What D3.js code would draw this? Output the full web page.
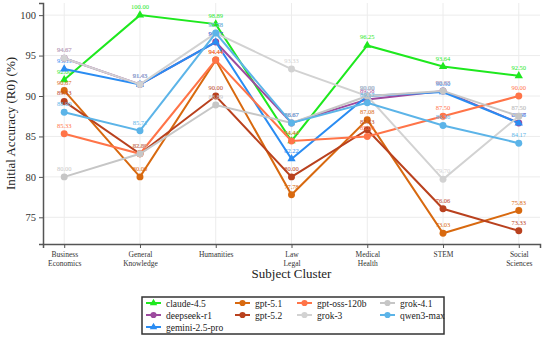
<!DOCTYPE html>
<html>
<head>
<meta charset="utf-8">
<script src="https://cdn.jsdelivr.net/npm/d3@7"></script>
<style>
  body { margin: 0; background: #fff; }
  text { font-family: "Liberation Serif", "DejaVu Serif", serif; }
</style>
</head>
<body>
<div id="wrapper"></div>
<script>
const categories = ["Business Economics", "General Knowledge", "Humanities", "Law Legal", "Medical Health", "STEM", "Social Sciences"]
const models = ["claude-4.5", "deepseek-r1", "gemini-2.5-pro", "gpt-5.1", "gpt-5.2", "gpt-oss-120b", "grok-3", "grok-4.1", "qwen3-max"]

const claude = [92.00, 100.00, 98.89, 84.44, 96.25, 93.64, 92.50]
const deepseek = [94.67, 91.43, 96.67, 86.67, 89.58, 90.63, 86.67]
const gemini = [93.33, 91.43, 96.67, 82.22, 90.00, 90.50, 86.66]
const gpt51 = [90.67, 80.00, 94.44, 77.78, 87.08, 73.03, 75.83]
const gpt52 = [89.33, 82.86, 90.00, 80.00, 85.83, 76.06, 73.33]
const gptoss = [85.33, 82.86, 94.44, 84.44, 85.00, 87.50, 90.00]
const grok3 = [94.67, 91.43, 97.78, 93.33, 90.00, 79.70, 87.50]
const grok41 = [80.00, 82.86, 88.89, 86.67, 90.00, 90.63, 87.50]
const qwen = [88.00, 85.71, 97.78, 86.67, 89.17, 86.36, 84.17]

const yTicks = [75, 80, 85, 90, 95, 100]

function drawChart() {
  const seriesValues = [claude, deepseek, gemini, gpt51, gpt52, gptoss, grok3, grok41, qwen]
  const colors = ["#1ee81e", "#9c4a9e", "#2a8cf2", "#d8690f", "#b9411e", "#ff7448", "#d2d2d2", "#c6c6c6", "#5cb4e8"]
  const symbols = [d3.symbolTriangle, d3.symbolCircle, d3.symbolTriangle, d3.symbolCircle, d3.symbolCircle,
                   d3.symbolCircle, d3.symbolCircle, d3.symbolCircle, d3.symbolCircle]

  const series = models.map((name, i) => ({
    name,
    color: colors[i],
    symbol: symbols[i],
    values: seriesValues[i].map((v, j) => ({ cat: categories[j], value: v }))
  }))

  let dimensions = {
    width: 548,
    height: 338,
    margin: { top: 3, right: 8, bottom: 94, left: 43 },
  }
  dimensions.boundedWidth = dimensions.width - dimensions.margin.left - dimensions.margin.right
  dimensions.boundedHeight = dimensions.height - dimensions.margin.top - dimensions.margin.bottom

  const wrapper = d3.select("#wrapper")
    .append("svg")
    .attr("width", dimensions.width)
    .attr("height", dimensions.height)

  const bounds = wrapper.append("g")
    .attr("transform", `translate(${dimensions.margin.left},${dimensions.margin.top})`)

  const xScale = d3.scalePoint()
    .domain(categories)
    .range([0, dimensions.boundedWidth])
    .padding(0.28)

  const yScale = d3.scaleLinear()
    .domain([71.7, 101.5])
    .range([dimensions.boundedHeight, 0])

  // grid
  bounds.append("g")
    .selectAll("line")
    .data(yTicks)
    .join("line")
    .attr("x1", 0)
    .attr("x2", dimensions.boundedWidth)
    .attr("y1", d => yScale(d))
    .attr("y2", d => yScale(d))
    .attr("stroke", "#ececec")
    .attr("stroke-width", 1)
  bounds.append("g")
    .selectAll("line")
    .data(categories)
    .join("line")
    .attr("x1", d => xScale(d))
    .attr("x2", d => xScale(d))
    .attr("y1", 0)
    .attr("y2", dimensions.boundedHeight)
    .attr("stroke", "#ececec")
    .attr("stroke-width", 1)

  // axes
  const yAxis = bounds.append("g")
    .call(d3.axisLeft(yScale).tickValues(yTicks).tickSize(4).tickPadding(3))
  yAxis.select(".domain").attr("stroke", "#555").attr("stroke-width", 1.5)
  yAxis.selectAll(".tick line").attr("stroke", "#555")
  yAxis.selectAll(".tick text")
    .attr("fill", "#333")
    .style("font-size", "10.5px")
    .style("font-family", "Liberation Serif, serif")

  const xAxis = bounds.append("g")
    .attr("transform", `translate(0,${dimensions.boundedHeight})`)
    .call(d3.axisBottom(xScale).tickSize(4).tickFormat(""))
  xAxis.select(".domain").attr("stroke", "#555").attr("stroke-width", 1.5)
  xAxis.selectAll(".tick line").attr("stroke", "#555")
  xAxis.selectAll(".tick")
    .append("text")
    .attr("fill", "#333")
    .attr("text-anchor", "middle")
    .style("font-size", "7.5px")
    .style("font-family", "Liberation Serif, serif")
    .selectAll("tspan")
    .data(d => d.split(" "))
    .join("tspan")
    .attr("x", 0)
    .attr("y", (d, i) => 13 + i * 9)
    .text(d => d)

  // titles
  wrapper.append("text")
    .attr("x", dimensions.margin.left + dimensions.boundedWidth / 2)
    .attr("y", 278)
    .attr("text-anchor", "middle")
    .attr("fill", "#222")
    .style("font-size", "13px")
    .text("Subject Cluster")
  wrapper.append("text")
    .attr("transform", `translate(15,${dimensions.margin.top + dimensions.boundedHeight / 2}) rotate(-90)`)
    .attr("text-anchor", "middle")
    .attr("fill", "#222")
    .style("font-size", "13px")
    .text("Initial Accuracy (R0) (%)")

  const lineGenerator = d3.line()
    .x(d => xScale(d.cat))
    .y(d => yScale(d.value))

  series.forEach(s => {
    const g = bounds.append("g")
    g.append("path")
      .attr("d", lineGenerator(s.values))
      .attr("fill", "none")
      .attr("stroke", s.color)
      .attr("stroke-width", 2)
    g.selectAll("path.marker")
      .data(s.values)
      .join("path")
      .attr("class", "marker")
      .attr("transform", d => `translate(${xScale(d.cat)},${yScale(d.value)})`)
      .attr("d", d3.symbol().type(s.symbol).size(s.symbol === d3.symbolTriangle ? 30 : 38))
      .attr("fill", s.color)
    g.selectAll("text")
      .data(s.values)
      .join("text")
      .attr("x", d => xScale(d.cat))
      .attr("y", d => yScale(d.value) - 6)
      .attr("text-anchor", "middle")
      .attr("fill", s.color)
      .style("font-size", "6.5px")
      .text(d => d.value.toFixed(2))
  })

  // legend
  const legend = wrapper.append("g")
    .attr("transform", "translate(142,297)")
  legend.append("rect")
    .attr("width", 302)
    .attr("height", 37)
    .attr("fill", "#fff")
    .attr("stroke", "#333")
    .attr("stroke-width", 1.5)
  const colX = [4, 93, 155, 238]
  const colOf = [0, 0, 0, 1, 1, 2, 2, 3, 3]
  const rowOf = [0, 1, 2, 0, 1, 0, 1, 0, 1]
  series.forEach((s, i) => {
    const item = legend.append("g")
      .attr("transform", `translate(${colX[colOf[i]]},${6 + rowOf[i] * 12})`)
    item.append("line")
      .attr("x1", 0).attr("x2", 15)
      .attr("stroke", s.color)
      .attr("stroke-width", 2)
    item.append("path")
      .attr("transform", "translate(7.5,0)")
      .attr("d", d3.symbol().type(s.symbol).size(s.symbol === d3.symbolTriangle ? 24 : 30))
      .attr("fill", s.color)
    item.append("text")
      .attr("x", 20)
      .attr("y", 3.5)
      .attr("fill", "#222")
      .style("font-size", "9.5px")
      .text(s.name)
  })
}

drawChart()
</script>
</body>
</html>
